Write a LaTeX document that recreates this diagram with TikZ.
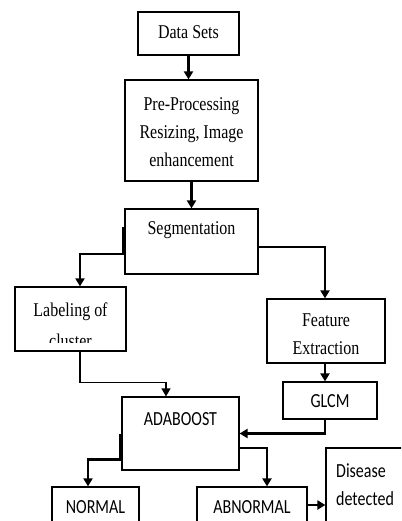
\documentclass[tikz,border=0pt]{standalone}
\usepackage{fontspec}
\setmainfont[FakeStretch=0.82]{Liberation Serif}
\newfontfamily\calibri[FakeStretch=0.8]{Carlito}
\usepackage{tikz}
\usetikzlibrary{arrows.meta}

\begin{document}
\begin{tikzpicture}[x=1pt,y=-1pt,
  box/.style={draw,line width=1.2pt,inner sep=0pt},
  serif/.style={font=\fontsize{19.5}{28}\selectfont,align=center,inner sep=0pt},
  sans/.style={font=\calibri\fontsize{20}{28}\selectfont,align=center,inner sep=0pt},
  conn/.style={line width=2.4pt,-{Triangle[width=9pt,length=8pt]}},
  thin conn/.style={line width=1.2pt,-{Triangle[width=9pt,length=8pt]}}]
\clip (0,0) rectangle (401,521);

% Boxes
\node[box,minimum width=101pt,minimum height=43pt] (data) at (188.5,33.5) {};
\node[serif] (datatext) at (188.5,32) {Data Sets};
\node[box,minimum width=133pt,minimum height=101pt] (pre) at (191.5,130.5) {};
\node[serif] (pretext) at (191.5,132) {Pre-Processing\\Resizing, Image\\enhancement};
\node[box,minimum width=133pt,minimum height=65pt] (seg) at (191.5,241.5) {};
\node[serif] (segtext) at (191.5,230) {Segmentation};
\node[box,minimum width=111pt,minimum height=64pt] (lab) at (70.5,319) {};
% text frame cuts the second line
\begin{scope}
  \clip (lab.north west) rectangle ([yshift=9pt]lab.south east);
  \node[serif,font=\fontsize{19.5}{31}\selectfont] (labtext) at (70.5,325) {Labeling of\\cluster};
\end{scope}
\node[box,minimum width=118pt,minimum height=64pt] (feat) at (326,331) {};
\node[serif] (feattext) at (326,334) {Feature\\Extraction};
\node[box,minimum width=94pt,minimum height=37pt] (glcm) at (330,400.5) {};
\node[sans] (glcmtext) at (330,401) {GLCM};
\node[box,minimum width=117pt,minimum height=73pt] (ada) at (180.5,433.5) {};
\node[sans] (adatext) at (180.5,419) {ADABOOST};
\node[box,minimum width=87pt,minimum height=48pt] (norm) at (95.5,511) {};
\node[sans] (normtext) at (95.5,507) {NORMAL};
\node[box,minimum width=110pt,minimum height=48pt] (abn) at (252,511) {};
\node[sans] (abntext) at (252,507) {ABNORMAL};
\node[box,minimum width=100pt,minimum height=92pt] (dis) at (376,494) {};
\node[sans,align=left,anchor=west] (distext) at (336,485) {Disease\\detected};

% Connectors
\draw[conn] (data.south) -- (data.south |- pre.north);
\draw[conn] (pre.south) -- (pre.south |- seg.north);
\draw[conn] ([xshift=-1pt,yshift=14.5pt]seg.west) -- ([xshift=-1pt,yshift=-12.5pt]seg.west)
  -| ([xshift=9.5pt]lab.north);
\draw[conn] ([yshift=-5.5pt]seg.east) -| ([xshift=-1pt]feat.north);
\draw[conn] ([xshift=-1pt]feat.south) -- ([xshift=-1pt]feat.south |- glcm.north);
\draw[thin conn] ([xshift=9.5pt]lab.south) -- ++(0,31) -| ([xshift=-14.5pt]ada.north);
\draw[conn] ([xshift=-5pt]glcm.south) |- (ada.east);
\draw[conn] ([xshift=-1pt]ada.west) -- ++(0,26) -| ([xshift=-7.5pt]norm.north);
\draw[conn] ([yshift=-14.5pt]ada.east) -| ([xshift=15pt]abn.north);
\draw[conn] ([yshift=6pt]abn.east) -- ([yshift=6pt]abn.east -| dis.west);
\end{tikzpicture}
\end{document}
